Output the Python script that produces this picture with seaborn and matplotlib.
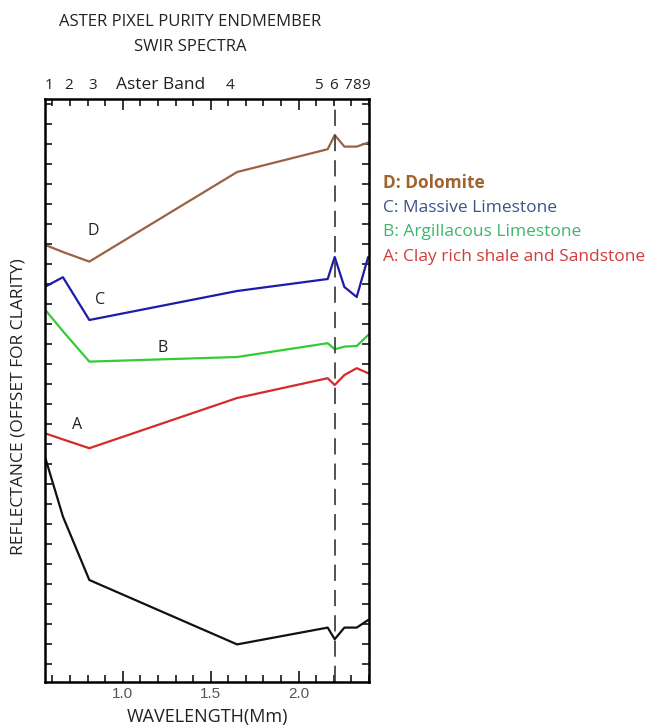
import matplotlib
matplotlib.use("Agg")
import matplotlib.pyplot as plt
import pandas as pd
import seaborn as sns
from matplotlib.ticker import MultipleLocator, NullFormatter

# ASTER SWIR band centres (micrometres)
wavelength = [0.56, 0.66, 0.81, 1.65, 2.165, 2.205, 2.26, 2.33, 2.395]

# reflectance, offset for clarity (arbitrary units)
refl_d = [20.95, 20.6, 20.12, 24.6, 25.74, 26.45, 25.87, 25.87, 26.07]
refl_c = [18.87, 19.34, 17.2, 18.65, 19.25, 20.35, 18.85, 18.35, 20.35]
refl_b = [17.7, 16.64, 15.12, 15.35, 16.04, 15.74, 15.87, 15.9, 16.45]
refl_a = [11.53, 11.23, 10.79, 13.3, 14.29, 13.95, 14.45, 14.79, 14.54]
refl_k = [10.3, 7.37, 4.2, 0.98, 1.82, 1.24, 1.82, 1.82, 2.2]

series = ["D", "C", "B", "A", "K"]
line_colors = ["#9b6142", "#1c1ca8", "#33cc33", "#d42a2a", "#111111"]
legend_labels = ["D: Dolomite", "C: Massive Limestone",
                 "B: Argillacous Limestone", "A: Clay rich shale and Sandstone"]
legend_colors = ["#a0642e", "#3c5488", "#3cb86a", "#d23c3c"]

# curve letters and where they sit
letter_x = [0.832, 0.872, 1.224, 0.741]
letter_y = [21.65, 18.2, 15.8, 11.95]

band_names = ["1", "2", "3", "4", "5", "6", "7", "8", "9"]
band_label_x = [0.582, 0.69, 0.83, 1.61, 2.11, 2.2, 2.28, 2.33, 2.383]
band_line = 2.205

rows = []
for name, vals in zip(series, [refl_d, refl_c, refl_b, refl_a, refl_k]):
    for w, r in zip(wavelength, vals):
        rows.append({"wavelength": w, "reflectance": r, "spectrum": name})
df = pd.DataFrame(rows)

sns.set_style("ticks")
plt.rcParams["font.family"] = ["Open Sans", "DejaVu Sans"]

fig = plt.figure(figsize=(6.55, 7.27), dpi=100)
ax = fig.add_axes([0.0687, 0.0619, 0.4947, 0.8019])

sns.lineplot(data=df, x="wavelength", y="reflectance", hue="spectrum",
             palette=dict(zip(series, line_colors)), legend=False,
             linewidth=1.6, ax=ax, sort=False)

ax.axvline(band_line, color="#444444", linestyle=(0, (9, 5)), linewidth=1.3)

ax.set_xlim(0.558, 2.40)
ax.set_ylim(-0.9, 28.25)

ax.xaxis.set_major_locator(MultipleLocator(0.5))
ax.xaxis.set_minor_locator(MultipleLocator(0.1))
ax.yaxis.set_major_locator(MultipleLocator(1))
ax.yaxis.set_major_formatter(NullFormatter())
ax.tick_params(axis="x", which="major", direction="in", length=8, width=1.3,
               top=True, labelsize=11, labelcolor="#555555")
ax.tick_params(axis="x", which="minor", direction="in", length=5, width=1.3, top=True)
ax.tick_params(axis="y", which="major", direction="in", length=5, width=1.3, right=True)
for lab in ax.get_xticklabels():
    lab.set_family("Liberation Sans")
for sp in ax.spines.values():
    sp.set_linewidth(1.8)
    sp.set_color("black")
    sp.set_visible(True)

ax.set_xlabel("WAVELENGTH(Mm)", fontsize=13, color="#222222", labelpad=5)
ax.set_ylabel("REFLECTANCE (OFFSET FOR CLARITY)", fontsize=12.5, color="#222222")
ax.yaxis.set_label_coords(-0.058, 0.473)

for t, x, y in zip(series[:4], letter_x, letter_y):
    ax.text(x, y, t, fontsize=11.5, ha="center", va="center", color="#222222")

# Aster band numbers along the top
for t, x in zip(band_names, band_label_x):
    ax.annotate(t, xy=(x, 1), xycoords=("data", "axes fraction"), xytext=(0, 4),
                textcoords="offset points", ha="center", va="bottom", fontsize=11,
                color="#222222")
ax.annotate("Aster Band", xy=(1.215, 1), xycoords=("data", "axes fraction"), xytext=(0, 4),
            textcoords="offset points", ha="center", va="bottom", fontsize=12.5,
            color="#222222")

fig.text(0.29, 0.970, "ASTER PIXEL PURITY ENDMEMBER", ha="center", va="center",
         fontsize=12, color="#222222")
fig.text(0.29, 0.936, "SWIR SPECTRA", ha="center", va="center",
         fontsize=12, color="#222222")

# legend written as coloured text to the right
for i, (t, c) in enumerate(zip(legend_labels, legend_colors)):
    fig.text(0.585, 0.748 - i * 0.0338, t, color=c, fontsize=12.5, ha="left", va="center",
             fontweight="bold" if i == 0 else "normal")

fig.savefig("out.png", dpi=100)
